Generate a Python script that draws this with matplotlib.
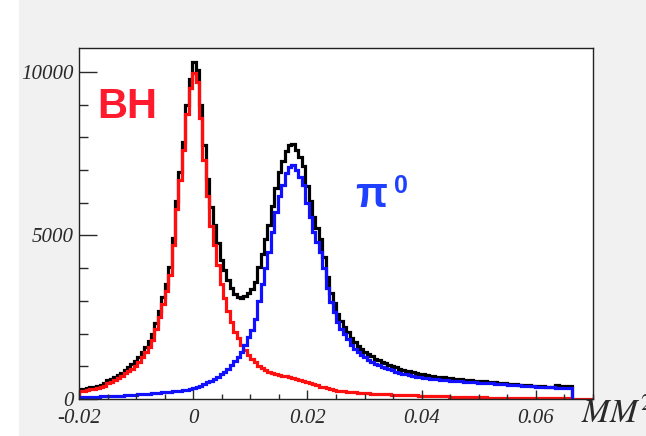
"""Missing-mass-squared spectrum: BH + pi0 contributions (ROOT-style histogram)."""

import numpy as np
import matplotlib
matplotlib.use("Agg")
import matplotlib.pyplot as plt
from matplotlib.patches import Rectangle
from matplotlib.ticker import MultipleLocator, FixedLocator

BG = "#f1f1f1"
RED = "#ff1010"
BLUE = "#1010ff"
BLACK = "#000000"
INK = "#2a2a2a"

BIN_LO = -0.02
BIN_W = 0.0006

# BH (red), 150 bins from -0.02
bh = [235, 250, 270, 290, 310, 330, 360, 410, 480, 530,
      580, 630, 700, 790, 860, 930, 1020, 1130, 1280, 1420,
      1600, 1800, 2150, 2500, 2900, 3300, 3800, 4700, 5800, 6700,
      7600, 8700, 9500, 9970, 9700, 8600, 7300, 6200, 5300, 4700,
      4100, 3500, 3100, 2700, 2350, 2050, 1850, 1650, 1500, 1350,
      1230, 1130, 1020, 940, 880, 830, 790, 760, 730, 710,
      690, 670, 650, 620, 590, 560, 520, 490, 460, 420,
      380, 350, 320, 295, 275, 255, 240, 228, 218, 208,
      198, 190, 182, 175, 168, 162, 156, 150, 145, 140,
      136, 132, 128, 125, 122, 118, 115, 112, 108, 105,
      100, 96, 92, 88, 85, 82, 79, 76, 73, 70,
      67, 64, 61, 58, 55, 52, 50, 48, 46, 44,
      42, 40, 38, 36, 34, 32, 30, 29, 28, 27,
      26, 25, 24, 23, 22, 21, 20, 19, 18, 17,
      16, 15, 14, 13, 12, 11, 10, 9, 8, 7]

# pi0 (blue), 144 bins from -0.02
pi0 = [55, 60, 62, 65, 68, 72, 76, 82, 88, 92,
       96, 100, 105, 110, 118, 125, 132, 140, 150, 158,
       165, 175, 185, 195, 205, 212, 220, 230, 240, 250,
       262, 275, 295, 320, 350, 400, 450, 510, 560, 610,
       680, 750, 830, 930, 1040, 1150, 1280, 1450, 1650, 1900,
       2120, 2450, 3000, 3500, 4000, 4500, 5100, 5700, 6200, 6550,
       6900, 7100, 7150, 7000, 6800, 6550, 6000, 5550, 5100, 4800,
       4500, 4000, 3400, 2950, 2650, 2350, 2150, 1980, 1820, 1650,
       1530, 1430, 1340, 1270, 1200, 1140, 1080, 1030, 985, 945,
       905, 870, 835, 805, 775, 750, 725, 700, 680, 665,
       650, 635, 622, 610, 600, 590, 580, 570, 560, 552,
       545, 538, 530, 523, 516, 509, 502, 495, 488, 481,
       474, 467, 460, 452, 444, 436, 428, 420, 412, 405,
       398, 390, 382, 375, 370, 365, 360, 356, 352, 348,
       345, 342, 340, 335]

# total (black), 144 bins from -0.02
total = [290, 310, 332, 355, 378, 402, 436, 492, 568, 622,
         676, 730, 805, 900, 978, 1055, 1152, 1270, 1430, 1578,
         1765, 1975, 2335, 2695, 3105, 3512, 4020, 4930, 6040, 6950,
         7862, 8975, 9795, 10290, 10050, 9000, 7750, 6710, 5860, 5310,
         4780, 4250, 3930, 3630, 3390, 3200, 3130, 3100, 3150, 3250,
         3350, 3580, 4020, 4440, 4880, 5330, 5890, 6460, 6930, 7260,
         7590, 7770, 7800, 7620, 7390, 7110, 6520, 6040, 5560, 5220,
         4880, 4350, 3720, 3245, 2925, 2605, 2390, 2208, 2038, 1858,
         1728, 1620, 1522, 1445, 1368, 1302, 1236, 1180, 1130, 1085,
         1041, 1002, 963, 930, 897, 868, 840, 812, 788, 770,
         750, 731, 714, 698, 685, 672, 659, 646, 633, 622,
         612, 602, 591, 581, 571, 561, 552, 543, 534, 525,
         516, 507, 498, 488, 478, 468, 458, 449, 440, 432,
         424, 415, 406, 398, 392, 386, 380, 375, 370, 420,
         410, 400, 395, 390]

x_major = [-0.02, 0.0, 0.02, 0.04, 0.06]
x_labels = ["-0.02", "0", "0.02", "0.04", "0.06"]
y_major = [0, 5000, 10000]
y_labels = ["0", "5000", "10000"]


def edges(n):
    return BIN_LO + BIN_W * np.arange(n + 1)


fig = plt.figure(figsize=(6.46, 4.36), dpi=100, facecolor=BG)
# white strip left of the grey ROOT canvas
fig.patches.append(Rectangle((0, 0), 0.029, 1, transform=fig.transFigure,
                             facecolor="white", edgecolor="none", zorder=-1))

ax = fig.add_axes([0.1223, 0.085, 0.7957, 0.805])
ax.set_facecolor("white")

ax.stairs(total, edges(len(total)), color=BLACK, lw=2.3, baseline=0)
ax.stairs(bh, edges(len(bh)), color=RED, lw=2.3, baseline=0)
ax.stairs(pi0, edges(len(pi0)), color=BLUE, lw=2.3, baseline=0)

ax.set_xlim(-0.02, 0.07)
ax.set_ylim(0, 10730)

serif = {"family": "Liberation Serif", "style": "italic", "size": 15, "color": INK}
ax.xaxis.set_major_locator(FixedLocator(x_major))
ax.set_xticklabels(x_labels, fontdict=serif)
ax.xaxis.set_minor_locator(MultipleLocator(0.005))
ax.yaxis.set_major_locator(FixedLocator(y_major))
ax.set_yticklabels(y_labels, fontdict=serif)
ax.yaxis.set_minor_locator(MultipleLocator(1000))

ax.tick_params(axis="x", which="major", direction="in", length=6.5, width=1,
               color=INK, pad=7)
ax.tick_params(axis="x", which="minor", direction="in", length=3.6, width=1,
               color=INK)
ax.tick_params(axis="y", which="major", direction="in", length=13, width=1,
               color=INK, pad=4)
ax.tick_params(axis="y", which="minor", direction="in", length=6.5, width=1,
               color=INK)
for s in ax.spines.values():
    s.set_color("#222222")
    s.set_linewidth(1.0)

ax.text(0.035, 0.80, "BH", transform=ax.transAxes, color="#ff1a2e",
        fontsize=30, fontweight="bold", family="Liberation Sans",
        ha="left", va="baseline")
ax.text(0.538, 0.547, "π", transform=ax.transAxes, color="#2040ff",
        fontsize=30, fontweight="bold", family="Liberation Sans",
        ha="left", va="baseline")
ax.text(0.613, 0.587, "0", transform=ax.transAxes, color="#2040ff",
        fontsize=18, fontweight="bold", family="Liberation Sans",
        ha="left", va="baseline")

fig.text(0.9, 0.015, r"$MM^2$", fontsize=24, color=INK,
         family="Liberation Serif", ha="left", va="bottom",
         math_fontfamily="stix")

fig.savefig("out.png", dpi=100, facecolor=BG)
